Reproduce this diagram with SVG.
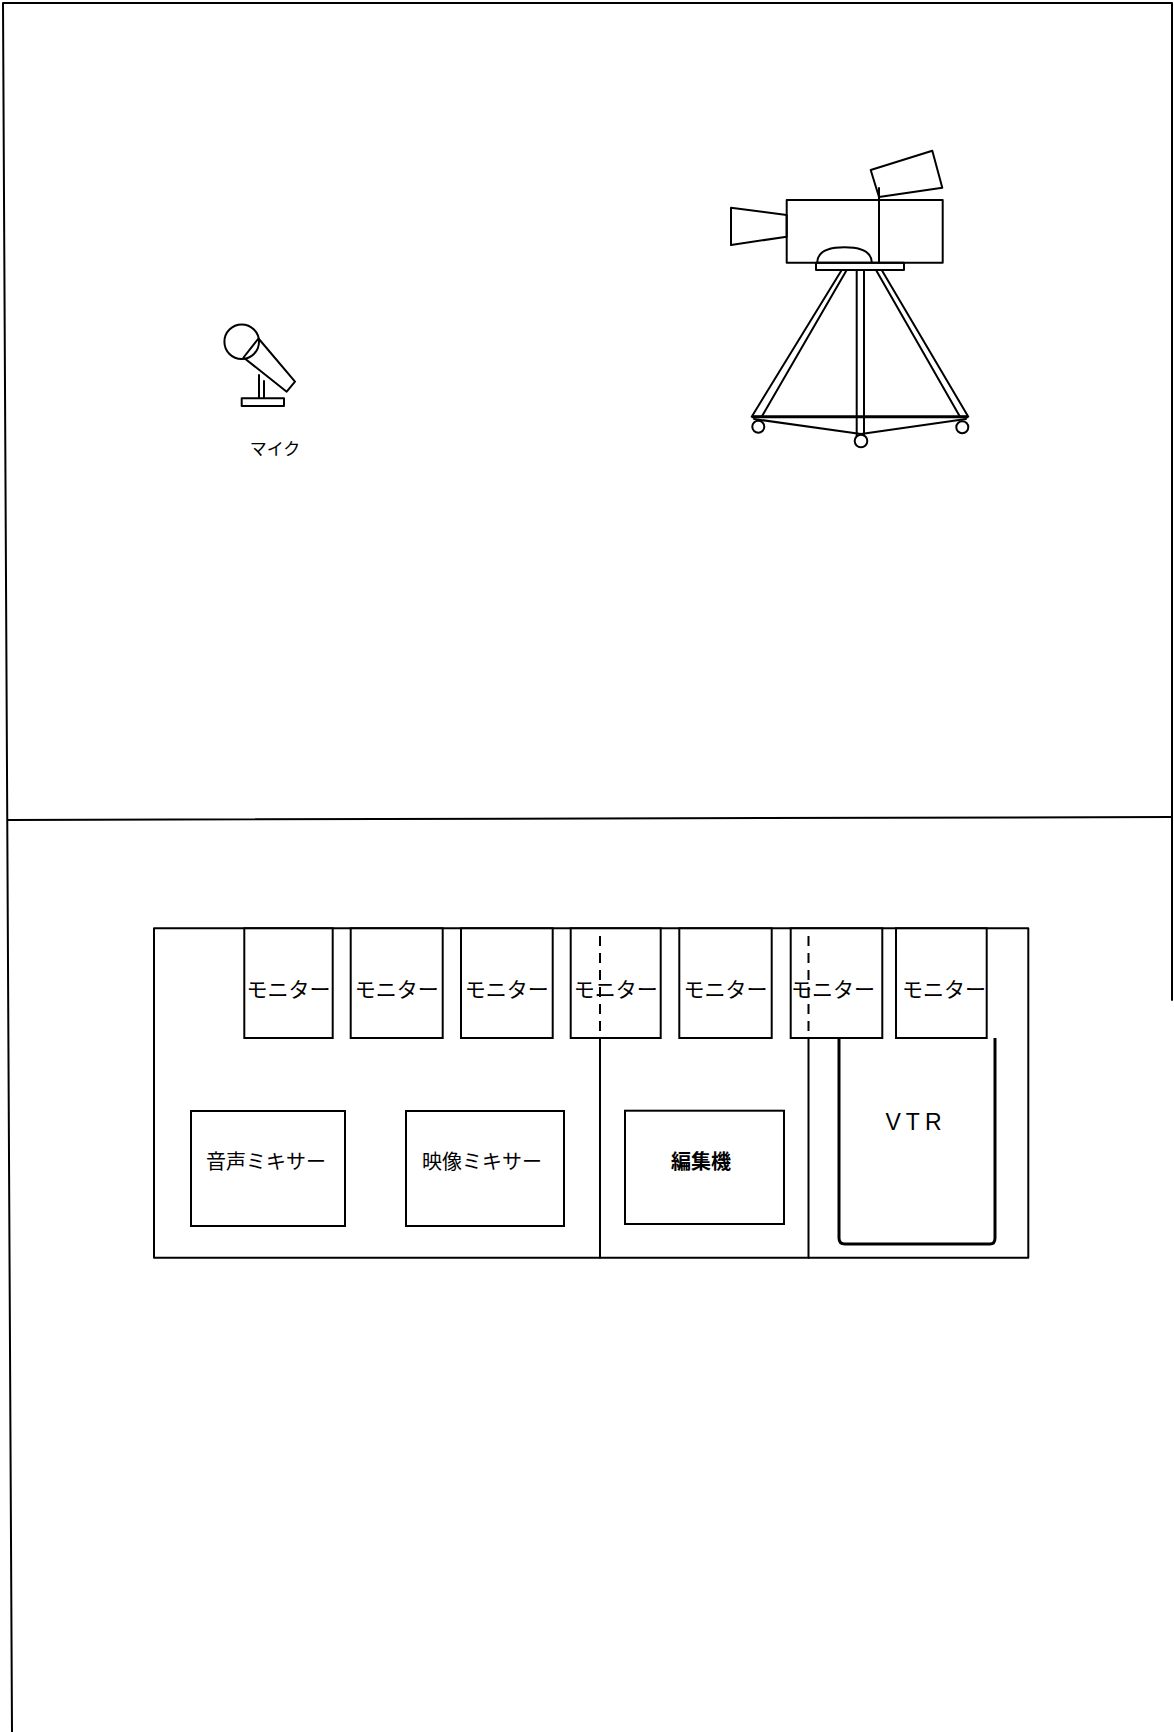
<svg xmlns="http://www.w3.org/2000/svg" width="1174" height="1732" viewBox="0 0 1174 1732">
  <style>
    .ln { fill: none; stroke: #000; stroke-width: 2; stroke-linejoin: round; stroke-linecap: round; }
    .box { fill: #fff; stroke: #000; stroke-width: 2; }
    .jp { font-family: "Noto Sans CJK JP", "Noto Sans", sans-serif; fill: #000; text-anchor: middle; }
    .mon { font-size: 21px; }
    .mix { font-size: 20px; }
    .dash { fill: none; stroke: #000; stroke-width: 2; stroke-dasharray: 10 7; }
  </style>

  <rect x="0" y="0" width="1174" height="1732" fill="#fff"/>

  <!-- sheet frame and divider between the two panels -->
  <g id="frame">
    <polyline class="ln" points="12,1732 3,3 1172,3 1172,1000"/>
    <line class="ln" x1="8" y1="820" x2="1172" y2="817"/>
  </g>

  <!-- microphone on a desk stand -->
  <g id="mic">
    <circle class="ln" cx="241.7" cy="341.7" r="17.3"/>
    <polygon class="ln" points="243.5,357.5 258.5,338.5 295,381.7 286.7,391.7"/>
    <line class="ln" x1="259" y1="375" x2="259" y2="398"/>
    <line class="ln" x1="264" y1="381" x2="264" y2="398"/>
    <rect class="ln" x="241.7" y="398.3" width="42.3" height="7.7"/>
    <text class="jp" x="275" y="455" font-size="17">マイク</text>
  </g>

  <!-- camera on a wheeled tripod -->
  <g id="camera">
    <polygon class="ln" points="731,207.7 786.7,215 786.7,236.7 731,245"/>
    <rect class="ln" x="786.7" y="200" width="156" height="62.7"/>
    <polygon class="ln" points="870.7,170 932.3,150.7 942.3,187.7 879,197"/>
    <line class="ln" x1="879" y1="188" x2="879" y2="262.7"/>
    <path class="ln" d="M817.3,262 Q818,247.3 844.5,247.3 Q871,247.3 871.7,262"/>
    <rect class="ln" x="816" y="262.7" width="88" height="7.3"/>
    <!-- legs -->
    <polygon class="ln" points="841.7,270 846.7,270 761.7,416.7 751.7,416.7"/>
    <polygon class="ln" points="856.7,270 864,270 864,436 856.7,436"/>
    <polygon class="ln" points="876,270 881.7,270 968.3,416.7 960,416.7"/>
    <!-- spreader -->
    <line x1="752" y1="416.7" x2="968" y2="416.7" stroke="#000" stroke-width="3"/>
    <polyline class="ln" points="754,419 861,434 966,419"/>
    <!-- wheels -->
    <circle class="box" cx="758.3" cy="426.7" r="6"/>
    <circle class="box" cx="861" cy="441" r="6.3"/>
    <circle class="box" cx="962.3" cy="427.3" r="6"/>
  </g>

  <!-- control console outline -->
  <g id="console">
    <rect class="ln" x="154" y="928.3" width="874.3" height="329.4"/>
  </g>

  <!-- monitor row -->
  <g id="monitor-1"><rect class="box" x="244.3" y="928.3" width="88.4" height="109.7"/><text class="jp mon" x="288.5" y="997">モニター</text></g>
  <g id="monitor-2"><rect class="box" x="350.7" y="928.3" width="92" height="109.7"/><text class="jp mon" x="396.7" y="997">モニター</text></g>
  <g id="monitor-3"><rect class="box" x="461" y="928.3" width="91.7" height="109.7"/><text class="jp mon" x="506.8" y="997">モニター</text></g>
  <g id="monitor-4"><rect class="box" x="570.7" y="928.3" width="90" height="109.7"/><text class="jp mon" x="615.7" y="997">モニター</text></g>
  <g id="monitor-5"><rect class="box" x="679.3" y="928.3" width="92.4" height="109.7"/><text class="jp mon" x="725.5" y="997">モニター</text></g>
  <g id="monitor-6"><rect class="box" x="790.7" y="928.3" width="91.6" height="109.7"/><text class="jp mon" x="833" y="997">モニター</text></g>
  <g id="monitor-7"><rect class="box" x="896" y="928.3" width="90.7" height="109.7"/><text class="jp mon" x="944" y="997">モニター</text></g>

  <!-- equipment -->
  <g id="audio-mixer"><rect class="box" x="191" y="1111" width="154" height="115"/><text class="jp mix" x="266" y="1169">音声ミキサー</text></g>
  <g id="video-mixer"><rect class="box" x="406" y="1111" width="158" height="115"/><text class="jp mix" x="482" y="1169">映像ミキサー</text></g>
  <g id="editor"><rect class="box" x="625" y="1110.7" width="159" height="113.3"/><text class="jp mix" x="701" y="1169" font-weight="bold">編集機</text></g>
  <g id="vtr">
    <path d="M839,1038 V1238 Q839,1244 845,1244 H990 Q995,1244 995,1238 V1038" fill="none" stroke="#000" stroke-width="3"/>
    <text x="916" y="1130" font-family="Liberation Sans, sans-serif" font-size="23" letter-spacing="5" text-anchor="middle">VTR</text>
  </g>

  <!-- section dividers: dashed across the monitor row, solid below -->
  <g id="connectors">
    <line class="dash" x1="600" y1="936" x2="600" y2="1038"/>
    <line class="ln" x1="600" y1="1038" x2="600" y2="1257.7"/>
    <line class="dash" x1="808.5" y1="936" x2="808.5" y2="1038"/>
    <line class="ln" x1="808.5" y1="1038" x2="808.5" y2="1257.7"/>
  </g>
</svg>
